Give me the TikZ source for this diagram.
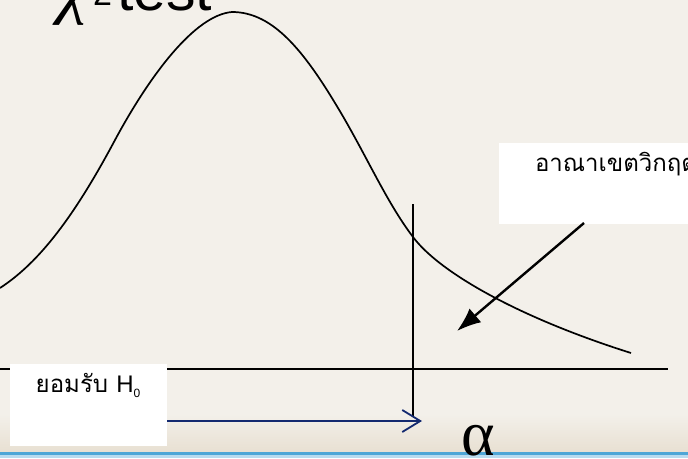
\documentclass[tikz,border=0pt]{standalone}
\usepackage{fontspec}
\setmainfont{Liberation Sans}
\newfontfamily\thaifont[Script=Thai]{Loma}
\newfontfamily\greekfont{Liberation Serif}
\usetikzlibrary{arrows.meta}
\definecolor{slidebg}{RGB}{243,240,234}
\definecolor{slideband}{RGB}{232,224,210}
\definecolor{slideblue}{RGB}{78,166,214}
\definecolor{navyarrow}{RGB}{20,42,112}

\begin{document}
\begin{tikzpicture}[x=1pt, y=-1pt, every node/.style={font=\thaifont\fontsize{24}{28}\selectfont}, whitebox/.style={fill=white, inner sep=0pt, anchor=north west}, curveline/.style={line width=1.7pt}]
	\useasboundingbox (0,0) rectangle (688,458);
	\clip (0,0) rectangle (688,458);
	\fill[slidebg] (0,0) rectangle (688,458);
	\shade[top color=slidebg, bottom color=slideband] (0,414) rectangle (688,452);
	\fill[slideblue] (0,452) rectangle (688,455);
	\fill[slideblue!40] (0,455) rectangle (688,458);
	\node[font=\greekfont\itshape\fontsize{70}{70}\selectfont, anchor=base west, inner sep=0pt] (chi) at (58,10) {χ};
	\node[font=\fontsize{34}{34}\selectfont, anchor=base west, inner sep=0pt] (chisq) at (93,5) {2};
	\node[font=\fontsize{59}{59}\selectfont, anchor=base west, inner sep=0pt] (title) at (117,10) {test};
	\coordinate (peak) at (232,12);
	\draw[curveline] (0,288) .. controls (40,262) and (75,215) .. (115,140) .. controls (150,75) and (195,15) .. (peak);
	\draw[curveline] (peak) .. controls (270,12) and (300,45) .. (335,103) .. controls (365,152) and (385,200) .. (413,237) .. controls (440,273) and (520,318) .. (631,353);
	\draw[line width=1.5pt] (0,369) -- (668,369);
	\coordinate (cutbot) at (413,416);
	\draw[line width=1.5pt] (413,204) -- (cutbot);
	\node[whitebox, minimum width=157pt, minimum height=82pt] (acceptbox) at (10,364) {};
	\node (acceptlabel) at (88,385) {ยอมรับ {\fontfamily{\rmdefault}\selectfont H\raisebox{-5pt}{\fontsize{12}{12}\selectfont 0}}};
	\node[whitebox, minimum width=234pt, minimum height=81pt] (critbox) at (499,143) {};
	\node (critlabel) at (616,164) {อาณาเขตวิกฤต};
	\coordinate (acceptend) at (422,421);
	\draw[navyarrow, line width=1.8pt, -{Straight Barb[length=18pt, width=22pt]}] (acceptbox.east |- acceptend) -- (acceptend);
	\coordinate (critstart) at (584,223);
	\coordinate (critend) at (457,331);
	\draw[line width=2.4pt, -{Latex[length=24pt, width=18pt]}] (critstart) -- (critend);
	\node[font=\greekfont\fontsize{64}{64}\selectfont, anchor=base, inner sep=0pt] (alpha) at (478,455) {α};
\end{tikzpicture}
\end{document}
